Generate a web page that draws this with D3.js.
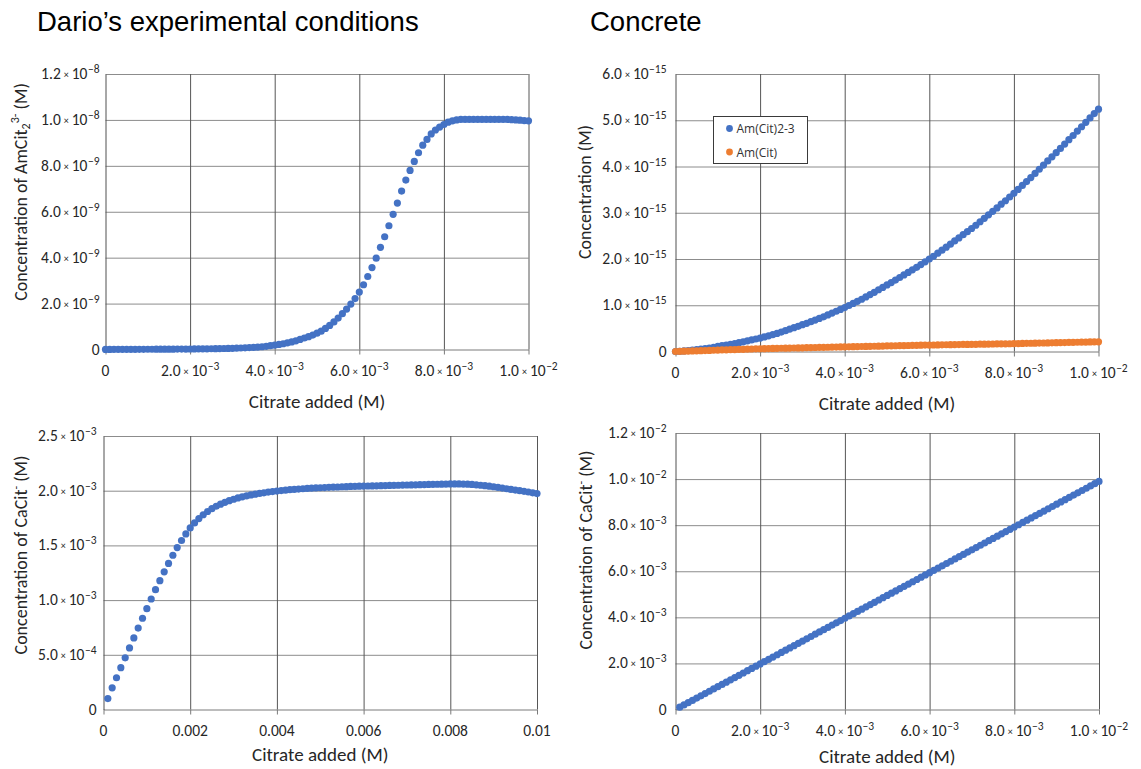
<!DOCTYPE html>
<html>
<head>
<meta charset="utf-8">
<script src="https://cdn.jsdelivr.net/npm/d3@7"></script>
<style>
  html, body { margin: 0; padding: 0; background: #ffffff; }
  svg { display: block; }
</style>
</head>
<body>
<svg id="chart" width="1141" height="769"></svg>
<script>
// ---- data -------------------------------------------------------------
// citrate added, in mM (0 to 10 mM, i.e. 0 to 1.0e-2 M)
const citrateMM = [
  0.0, 0.1, 0.2, 0.3, 0.4, 0.5, 0.6, 0.7, 0.8, 0.9,
  1.0, 1.1, 1.2, 1.3, 1.4, 1.5, 1.6, 1.7, 1.8, 1.9,
  2.0, 2.1, 2.2, 2.3, 2.4, 2.5, 2.6, 2.7, 2.8, 2.9,
  3.0, 3.1, 3.2, 3.3, 3.4, 3.5, 3.6, 3.7, 3.8, 3.9,
  4.0, 4.1, 4.2, 4.3, 4.4, 4.5, 4.6, 4.7, 4.8, 4.9,
  5.0, 5.1, 5.2, 5.3, 5.4, 5.5, 5.6, 5.7, 5.8, 5.9,
  6.0, 6.1, 6.2, 6.3, 6.4, 6.5, 6.6, 6.7, 6.8, 6.9,
  7.0, 7.1, 7.2, 7.3, 7.4, 7.5, 7.6, 7.7, 7.8, 7.9,
  8.0, 8.1, 8.2, 8.3, 8.4, 8.5, 8.6, 8.7, 8.8, 8.9,
  9.0, 9.1, 9.2, 9.3, 9.4, 9.5, 9.6, 9.7, 9.8, 9.9,
  10.0
];

// Dario's conditions: AmCit2(3-) concentration, in units of 1e-9 M
const darioAmCit2 = [
  0.005, 0.005, 0.006, 0.006, 0.007, 0.007, 0.008, 0.008, 0.009, 0.009,
  0.010, 0.011, 0.012, 0.013, 0.014, 0.015, 0.016, 0.017, 0.019, 0.020,
  0.022, 0.024, 0.026, 0.028, 0.030, 0.033, 0.036, 0.040, 0.044, 0.048,
  0.053, 0.059, 0.066, 0.074, 0.082, 0.092, 0.104, 0.120, 0.140, 0.165,
  0.19, 0.22, 0.25, 0.29, 0.33, 0.38, 0.44, 0.50, 0.56, 0.63,
  0.71, 0.80, 0.92, 1.05, 1.20, 1.37, 1.56, 1.76, 1.98, 2.22,
  2.50, 2.82, 3.18, 3.57, 3.98, 4.45, 4.91, 5.39, 5.89, 6.38,
  6.90, 7.38, 7.80, 8.19, 8.57, 8.90, 9.15, 9.39, 9.56, 9.69,
  9.80, 9.90, 9.96, 10.00, 10.02, 10.02, 10.02, 10.02, 10.02, 10.02,
  10.02, 10.02, 10.02, 10.02, 10.02, 10.02, 10.01, 10.00, 9.99, 9.97,
  9.96
];

// Dario's conditions: CaCit(-) concentration, in units of 1e-3 M (from 0.1 mM citrate)
const darioCaCit = [
  0.100, 0.198, 0.290, 0.382, 0.472, 0.563, 0.654, 0.744, 0.834,
  0.922, 1.010, 1.095, 1.178, 1.258, 1.335, 1.410, 1.480, 1.545, 1.605,
  1.660, 1.705, 1.745, 1.780, 1.810, 1.836, 1.858, 1.877, 1.894, 1.909,
  1.922, 1.934, 1.944, 1.953, 1.961, 1.968, 1.975, 1.981, 1.987, 1.992,
  1.997, 2.001, 2.005, 2.009, 2.012, 2.015, 2.018, 2.021, 2.023, 2.025,
  2.027, 2.029, 2.031, 2.033, 2.034, 2.036, 2.037, 2.039, 2.040, 2.041,
  2.042, 2.043, 2.044, 2.045, 2.046, 2.047, 2.048, 2.049, 2.050, 2.051,
  2.052, 2.053, 2.054, 2.055, 2.056, 2.057, 2.058, 2.059, 2.060, 2.061,
  2.062, 2.062, 2.062, 2.061, 2.060, 2.057, 2.054, 2.050, 2.046, 2.041,
  2.036, 2.030, 2.024, 2.018, 2.012, 2.006, 2.000, 1.994, 1.988, 1.981,
  1.974
];

// Concrete: Am(Cit)2(3-) concentration, in units of 1e-15 M
const concreteAmCit2 = [
  0.000, 0.005, 0.012, 0.020, 0.030, 0.040, 0.050, 0.062, 0.075, 0.092,
  0.110, 0.125, 0.140, 0.155, 0.170, 0.190, 0.210, 0.230, 0.250, 0.270,
  0.290, 0.315, 0.340, 0.365, 0.390, 0.420, 0.450, 0.485, 0.515, 0.545,
  0.580, 0.610, 0.645, 0.680, 0.715, 0.750, 0.790, 0.830, 0.870, 0.910,
  0.950, 0.995, 1.040, 1.085, 1.130, 1.180, 1.230, 1.280, 1.335, 1.385,
  1.440, 1.490, 1.545, 1.600, 1.655, 1.710, 1.765, 1.820, 1.880, 1.940,
  2.000, 2.060, 2.125, 2.190, 2.255, 2.320, 2.390, 2.455, 2.525, 2.590,
  2.660, 2.730, 2.805, 2.880, 2.955, 3.030, 3.105, 3.185, 3.260, 3.340,
  3.420, 3.505, 3.590, 3.675, 3.760, 3.850, 3.940, 4.030, 4.120, 4.210,
  4.300, 4.390, 4.485, 4.580, 4.670, 4.765, 4.860, 4.955, 5.050, 5.145,
  5.240
];

// Concrete: Am(Cit) concentration, in units of 1e-15 M
const concreteAmCit = [
  0.000, 0.003, 0.006, 0.009, 0.012, 0.015, 0.018, 0.021, 0.024, 0.027,
  0.030, 0.033, 0.036, 0.039, 0.042, 0.045, 0.048, 0.051, 0.054, 0.057,
  0.060, 0.062, 0.064, 0.066, 0.068, 0.070, 0.072, 0.074, 0.076, 0.078,
  0.080, 0.082, 0.084, 0.086, 0.088, 0.090, 0.092, 0.094, 0.096, 0.098,
  0.100, 0.102, 0.104, 0.106, 0.108, 0.110, 0.112, 0.114, 0.116, 0.118,
  0.120, 0.122, 0.124, 0.126, 0.128, 0.130, 0.132, 0.134, 0.136, 0.138,
  0.140, 0.141, 0.143, 0.144, 0.146, 0.147, 0.149, 0.150, 0.152, 0.153,
  0.155, 0.156, 0.158, 0.159, 0.161, 0.162, 0.164, 0.165, 0.167, 0.168,
  0.170, 0.172, 0.174, 0.176, 0.178, 0.180, 0.182, 0.184, 0.186, 0.188,
  0.190, 0.192, 0.194, 0.196, 0.198, 0.200, 0.202, 0.204, 0.206, 0.208,
  0.210
];

// Concrete: CaCit(-) concentration, in units of 1e-3 M (from 0.1 mM citrate)
const concreteCaCit = [
  0.099, 0.198, 0.297, 0.396, 0.495, 0.594, 0.693, 0.792, 0.891,
  0.990, 1.089, 1.188, 1.287, 1.386, 1.485, 1.584, 1.683, 1.782, 1.881,
  1.980, 2.079, 2.178, 2.277, 2.376, 2.475, 2.574, 2.673, 2.772, 2.871,
  2.970, 3.069, 3.168, 3.267, 3.366, 3.465, 3.564, 3.663, 3.762, 3.861,
  3.960, 4.059, 4.158, 4.257, 4.356, 4.455, 4.554, 4.653, 4.752, 4.851,
  4.950, 5.049, 5.148, 5.247, 5.346, 5.445, 5.544, 5.643, 5.742, 5.841,
  5.940, 6.039, 6.138, 6.237, 6.336, 6.435, 6.534, 6.633, 6.732, 6.831,
  6.930, 7.029, 7.128, 7.227, 7.326, 7.425, 7.524, 7.623, 7.722, 7.821,
  7.920, 8.019, 8.118, 8.217, 8.316, 8.415, 8.514, 8.613, 8.712, 8.811,
  8.910, 9.009, 9.108, 9.207, 9.306, 9.405, 9.504, 9.603, 9.702, 9.801,
  9.900
];

// ---- tick values (M) --------------------------------------------------
const xTicks = [0, 0.002, 0.004, 0.006, 0.008, 0.01];
const xTickLabelsPlain = ["0", "0.002", "0.004", "0.006", "0.008", "0.01"];
const yTicksDarioAm = [0, 2e-9, 4e-9, 6e-9, 8e-9, 1.0e-8, 1.2e-8];
const yTicksDarioCa = [0, 5e-4, 1.0e-3, 1.5e-3, 2.0e-3, 2.5e-3];
const yTicksConcreteAm = [0, 1e-15, 2e-15, 3e-15, 4e-15, 5e-15, 6e-15];
const yTicksConcreteCa = [0, 2e-3, 4e-3, 6e-3, 8e-3, 1.0e-2, 1.2e-2];

const seriesNames = ["Am(Cit)2-3", "Am(Cit)"];

// ---- styling ----------------------------------------------------------
const BLUE = "#4472C4";
const ORANGE = "#ED7D31";
const H_GRID = "#8c8c8c";
const V_GRID = "#565656";
const LABEL_FONT = "Carlito, Calibri, Lato, 'Open Sans', sans-serif";
const TITLE_FONT = "'Liberation Sans', Arial, sans-serif";
const TEXT_COLOR = "#262626";
const TICK_SIZE = 15.5;
const AXIS_TITLE_SIZE = 19;
const DOT_R = 3.6;

const svg = d3.select("#chart");

function sciParts(v) {
  let e = Math.floor(Math.log10(Math.abs(v)) + 1e-9);
  let m = v / Math.pow(10, e);
  if (m >= 9.95) { m /= 10; e += 1; }
  return [m.toFixed(1), e];
}

// writes "m.m × 10^-e" into a text element
function writeSci(text, v) {
  if (v === 0) { text.text("0"); return; }
  const [m, e] = sciParts(v);
  text.append("tspan").text(m);
  text.append("tspan").attr("font-size", 10).attr("dx", 3).attr("dy", -1).text("×");
  text.append("tspan").attr("dx", 3).attr("dy", 1).text("10");
  text.append("tspan").attr("font-size", 11.5).attr("dx", 0.5).attr("dy", -6).text("\u2212" + Math.abs(e));
}

function drawPanel(cfg) {
  const x = d3.scaleLinear().domain([0, 0.01]).range([cfg.x0, cfg.x1]);
  const y = d3.scaleLinear().domain([0, cfg.yMax]).range([cfg.y1, cfg.y0]);
  const w = cfg.x1 - cfg.x0, h = cfg.y1 - cfg.y0;
  const g = svg.append("g");

  // horizontal gridlines
  g.append("g")
    .attr("transform", `translate(${cfg.x0},0)`)
    .call(d3.axisLeft(y).tickValues(cfg.yTicks.filter(d => d > 0)).tickSize(-w).tickFormat(""))
    .call(a => a.select(".domain").remove())
    .call(a => a.selectAll(".tick line").attr("stroke", H_GRID).attr("stroke-width", 1));

  // vertical gridlines
  g.append("g")
    .attr("transform", `translate(0,${cfg.y1})`)
    .call(d3.axisBottom(x).tickValues(xTicks.filter(d => d > 0)).tickSize(-h).tickFormat(""))
    .call(a => a.select(".domain").remove())
    .call(a => a.selectAll(".tick line").attr("stroke", V_GRID).attr("stroke-width", 1));

  // x axis with short outward ticks
  g.append("g")
    .attr("transform", `translate(0,${cfg.y1})`)
    .call(d3.axisBottom(x).tickValues(xTicks).tickSize(5).tickSizeOuter(0).tickFormat(""))
    .call(a => a.select(".domain").attr("stroke", "#7a7a7a"))
    .call(a => a.selectAll(".tick line").attr("stroke", "#7a7a7a"));

  // y axis line
  g.append("g")
    .attr("transform", `translate(${cfg.x0},0)`)
    .call(d3.axisLeft(y).tickValues([]).tickSizeOuter(0))
    .call(a => a.select(".domain").attr("stroke", "#505050"));

  // x tick labels
  g.append("g").selectAll("text")
    .data(xTicks)
    .join("text")
    .attr("x", d => x(d))
    .attr("y", cfg.y1 + 26)
    .attr("text-anchor", "middle")
    .attr("font-family", LABEL_FONT)
    .attr("font-size", TICK_SIZE)
    .attr("fill", TEXT_COLOR)
    .each(function(d, i) {
      const t = d3.select(this);
      if (cfg.plainX) t.text(xTickLabelsPlain[i]); else writeSci(t, d);
    });

  // y tick labels
  g.append("g").selectAll("text")
    .data(cfg.yTicks)
    .join("text")
    .attr("x", cfg.x0 - cfg.yLabelGap)
    .attr("y", d => y(d) + 5)
    .attr("text-anchor", "end")
    .attr("font-family", LABEL_FONT)
    .attr("font-size", TICK_SIZE)
    .attr("fill", TEXT_COLOR)
    .each(function(d) { writeSci(d3.select(this), d); });

  // x axis title
  g.append("text")
    .attr("x", (cfg.x0 + cfg.x1) / 2)
    .attr("y", cfg.xTitleY)
    .attr("text-anchor", "middle")
    .attr("font-family", LABEL_FONT)
    .attr("font-size", AXIS_TITLE_SIZE)
    .attr("fill", TEXT_COLOR)
    .text("Citrate added (M)");

  // y axis title
  const yt = g.append("text")
    .attr("transform", `translate(${cfg.yTitleX},${cfg.yTitleY}) rotate(-90)`)
    .attr("text-anchor", "middle")
    .attr("font-family", LABEL_FONT)
    .attr("font-size", 18)
    .attr("fill", TEXT_COLOR);
  cfg.yTitle(yt);

  // series
  cfg.series.forEach(s => {
    g.append("g").selectAll("circle")
      .data(s.values.map((v, i) => [citrateMM[i + s.offset] * 1e-3, v * s.unit]))
      .join("circle")
      .attr("cx", d => x(d[0]))
      .attr("cy", d => y(d[1]))
      .attr("r", DOT_R)
      .attr("fill", s.color);
  });
  return { x, y, g };
}

// ---- chart titles ------------------------------------------------------
svg.append("text")
  .attr("x", 37).attr("y", 31)
  .attr("font-family", TITLE_FONT).attr("font-size", 27.5).attr("fill", "#000")
  .text("Dario\u2019s experimental conditions");
svg.append("text")
  .attr("x", 590).attr("y", 31)
  .attr("font-family", TITLE_FONT).attr("font-size", 27.5).attr("fill", "#000")
  .text("Concrete");

// ---- panels ------------------------------------------------------------
drawPanel({
  x0: 105.5, x1: 528.5, y0: 74, y1: 349.5, yMax: 1.2e-8,
  yTicks: yTicksDarioAm, yLabelGap: 6,
  xTitleY: 408, yTitleX: 27, yTitleY: 192,
  yTitle: t => {
    t.append("tspan").text("Concentration of AmCit");
    t.append("tspan").attr("font-size", 12).attr("dy", 3).text("2");
    t.append("tspan").attr("font-size", 12).attr("dy", -11).text("3-");
    t.append("tspan").attr("dy", 8).text(" (M)");
  },
  series: [{ values: darioAmCit2, unit: 1e-9, offset: 0, color: BLUE }]
});

drawPanel({
  x0: 103.5, x1: 537, y0: 436, y1: 709.5, yMax: 2.5e-3,
  yTicks: yTicksDarioCa, yLabelGap: 7, plainX: true,
  xTitleY: 761, yTitleX: 27, yTitleY: 555,
  yTitle: t => {
    t.append("tspan").text("Concentration of CaCit");
    t.append("tspan").attr("font-size", 12).attr("dy", -7).text("-");
    t.append("tspan").attr("dy", 7).text(" (M)");
  },
  series: [{ values: darioCaCit, unit: 1e-3, offset: 1, color: BLUE }]
});

drawPanel({
  x0: 675.5, x1: 1098.5, y0: 74, y1: 351.5, yMax: 6e-15,
  yTicks: yTicksConcreteAm, yLabelGap: 9,
  xTitleY: 410, yTitleX: 591, yTitleY: 192,
  yTitle: t => t.text("Concentration (M)"),
  series: [
    { values: concreteAmCit2, unit: 1e-15, offset: 0, color: BLUE },
    { values: concreteAmCit, unit: 1e-15, offset: 0, color: ORANGE }
  ]
});

drawPanel({
  x0: 675.5, x1: 1099, y0: 433, y1: 709.5, yMax: 1.2e-2,
  yTicks: yTicksConcreteCa, yLabelGap: 9,
  xTitleY: 763, yTitleX: 592, yTitleY: 550,
  yTitle: t => {
    t.append("tspan").text("Concentration of CaCit");
    t.append("tspan").attr("font-size", 12).attr("dy", -7).text("-");
    t.append("tspan").attr("dy", 7).text(" (M)");
  },
  series: [{ values: concreteCaCit, unit: 1e-3, offset: 1, color: BLUE }]
});

// ---- legend (Concrete, top) -------------------------------------------
const legend = svg.append("g").attr("transform", "translate(713.5,116.5)");
legend.append("rect")
  .attr("width", 94).attr("height", 47)
  .attr("fill", "#fff").attr("stroke", "#3a3a3a").attr("stroke-width", 1);
[BLUE, ORANGE].forEach((c, i) => {
  legend.append("circle").attr("cx", 16).attr("cy", 12 + i * 23.5).attr("r", 3.4).attr("fill", c);
  legend.append("text")
    .attr("x", 23).attr("y", 16.5 + i * 23.5)
    .attr("font-family", "'Open Sans', sans-serif").attr("font-size", 12)
    .attr("fill", "#333")
    .text(seriesNames[i]);
});
</script>
</body>
</html>
